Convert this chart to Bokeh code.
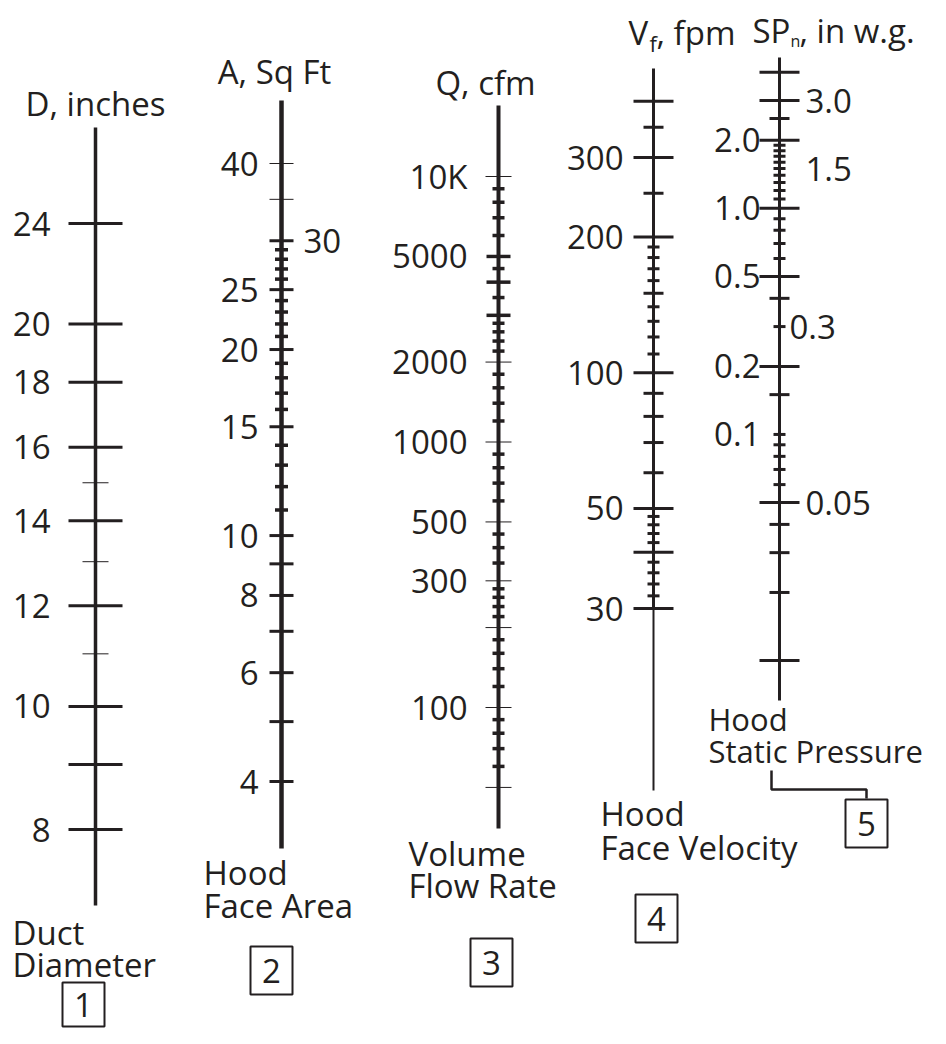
import math
from bokeh.plotting import figure
from bokeh.models import Range1d, LogScale
from bokeh.core.properties import value
from bokeh.embed import file_html
from bokeh.resources import INLINE

# ---------------- data (scale values) ----------------
D_major = [8, 9, 10, 12, 14, 16, 18, 20, 24]
D_minor = [11, 13, 15]
D_labels = [8, 10, 12, 14, 16, 18, 20, 24]

A_thin = [35, 40]
A_major = [4, 5, 6, 7, 8, 9, 10, 15, 20, 25, 30]
A_minor = [11, 12, 13, 14, 16, 17, 18, 19, 21, 22, 23, 24, 26, 27, 28, 29]
A_labels_left = [4, 6, 8, 10, 15, 20, 25, 40]
A_labels_right = [30]

Q_thin = [50, 100, 200, 300, 500, 1000, 2000, 10000]
Q_major = [3000, 4000, 5000]
Q_minor = [60, 70, 80, 90, 120, 140, 160, 180, 220, 240, 260, 280, 350, 400, 450,
           600, 700, 800, 900, 1200, 1400, 1600, 1800, 2200, 2400, 2600, 2800,
           3500, 4500, 6000, 7000, 8000, 9000]
Q_labels = [100, 300, 500, 1000, 2000, 5000, 10000]
Q_label_text = ["100", "300", "500", "1000", "2000", "5000", "10K"]

V_major = [30, 40, 50, 100, 200, 300, 400]
V_mid = [60, 70, 80, 90, 150, 250, 350]
V_minor = [32, 34, 36, 38, 42, 44, 46, 48, 110, 120, 130, 140, 160, 170, 180, 190]
V_labels = [30, 50, 100, 200, 300]

SP_major = [0.01, 0.05, 0.2, 0.5, 1.0, 2.0, 3.0, 4.0]
SP_mid = [0.02, 0.03, 0.04, 0.15, 0.4, 2.5]
SP_minor = [0.06, 0.07, 0.08, 0.09, 0.1, 0.3, 0.6, 0.7, 0.8, 0.9,
            1.1, 1.2, 1.3, 1.4, 1.5, 1.6, 1.7, 1.8, 1.9]
SP_labels_left = [0.1, 0.2, 0.5, 1.0, 2.0]
SP_labels_left_text = ["0.1", "0.2", "0.5", "1.0", "2.0"]
SP_labels_right = [0.05, 1.5, 3.0]
SP_labels_right_text = ["0.05", "1.5", "3.0"]
SP_label_near = [0.3]
SP_label_near_text = ["0.3"]

# ---------------- layout ----------------
W, H = 930, 1028
TOP, BOT = 0, H
INK = "#231f20"
FONT = value("Open Sans")
FS = "33px"

p = figure(width=W, height=H, x_range=Range1d(0, W), y_range=Range1d(BOT, TOP),
           output_backend="svg", toolbar_location=None, min_border=0,
           x_axis_type=None, y_axis_type=None)
p.grid.visible = False
p.outline_line_color = None
p.background_fill_color = "white"
p.border_fill_color = "white"


def log_range(v1, y1, v2, y2):
    """Log range so that value v1 sits at page-y y1 and v2 at y2."""
    k = (y2 - y1) / (math.log10(v1) - math.log10(v2))
    lo = math.log10(v1) - (BOT - y1) / k
    hi = math.log10(v1) + (y1 - TOP) / k
    return Range1d(10 ** lo, 10 ** hi)


p.extra_y_ranges = {
    "D": log_range(24, 223, 8, 829),
    "A": log_range(40, 163, 4, 781),
    "Q": log_range(10000, 176, 100, 707),
    "V": log_range(300, 157, 30, 608),
    "SP": log_range(3.0, 100, 0.05, 502),
}
p.extra_y_scales = {k: LogScale() for k in ["D", "A", "Q", "V", "SP"]}


def ticks(x, vals, half, width, rng):
    p.segment(x0=[x - half] * len(vals), x1=[x + half] * len(vals), y0=vals, y1=vals,
              line_color=INK, line_width=width, y_range_name=rng)


def labels(x, vals, texts, align, rng, size=FS):
    p.text(x=[x] * len(vals), y=vals, text=[str(t) for t in texts], text_align=align,
           text_baseline="middle", text_font=FONT, text_font_size=size,
           text_color=INK, y_range_name=rng)


def free_text(x, y, t, align="left", size=FS, baseline="middle"):
    p.text(x=[x], y=[y], text=[t], text_align=align, text_baseline=baseline,
           text_font=FONT, text_font_size=size, text_color=INK)


def axis_line(x, y0, y1, w):
    p.segment(x0=[x], x1=[x], y0=[y0], y1=[y1], line_color=INK, line_width=w)


def box(cx, cy, t, h=48):
    p.rect(x=[cx], y=[cy], width=42, height=h, fill_color=None, line_color=INK, line_width=2)
    free_text(cx, cy, t, align="center")


# ---- 1: Duct diameter ----
xD = 95
axis_line(xD, 127, 905, 3.5)
ticks(xD, D_major, 27, 3, "D")
ticks(xD, D_minor, 13, 1, "D")
labels(50, D_labels, D_labels, "right", "D")
free_text(xD, 103, "D, inches", align="center")
free_text(12, 932, "Duct")
free_text(12, 964, "Diameter")
box(83, 1004, "1", h=44)

# ---- 2: Hood face area ----
xA = 281
axis_line(xA, 100, 848, 4.5)
ticks(xA, A_major, 12, 3, "A")
ticks(xA, A_minor, 6.5, 3.5, "A")
ticks(xA, A_thin, 12, 1, "A")
labels(258, A_labels_left, A_labels_left, "right", "A")
labels(303, A_labels_right, A_labels_right, "left", "A")
free_text(274, 71, "A, Sq Ft", align="center")
free_text(203, 872, "Hood")
free_text(203, 905, "Face Area")
box(271, 970, "2")

# ---- 3: Volume flow rate ----
xQ = 498
axis_line(xQ, 105, 828, 4)
ticks(xQ, Q_thin, 13, 1, "Q")
ticks(xQ, Q_major, 12, 3.5, "Q")
ticks(xQ, Q_minor, 6, 3.5, "Q")
labels(467, Q_labels, Q_label_text, "right", "Q")
free_text(485, 82, "Q, cfm", align="center")
free_text(408, 853, "Volume")
free_text(408, 885, "Flow Rate")
box(491, 962, "3")

# ---- 4: Hood face velocity ----
xV = 653
axis_line(xV, 68, 608, 3)
axis_line(xV, 608, 790, 2)
ticks(xV, V_major, 20, 3, "V")
ticks(xV, V_mid, 10, 3, "V")
ticks(xV, V_minor, 6, 3, "V")
labels(623, V_labels, V_labels, "right", "V")
free_text(628, 32, "V")
free_text(649, 42, "f", size="22px")
free_text(656, 32, ", fpm")
free_text(600, 813, "Hood")
free_text(600, 847, "Face Velocity")
box(656, 918, "4")

# ---- 5: Hood static pressure ----
xS = 779
axis_line(xS, 57, 700, 3)
ticks(xS, SP_major, 20, 3, "SP")
ticks(xS, SP_mid, 10, 3, "SP")
ticks(xS, SP_minor, 6, 3, "SP")
labels(760, SP_labels_left, SP_labels_left_text, "right", "SP")
labels(805, SP_labels_right, SP_labels_right_text, "left", "SP")
labels(789, SP_label_near, SP_label_near_text, "left", "SP")
free_text(752, 30, "SP")
free_text(790, 40, "n", size="16px")
free_text(799, 30, ", in w.g.")
free_text(708, 718, "Hood", size="31px")
free_text(708, 750, "Static Pressure", size="31px")
p.line(x=[771, 771, 866, 866], y=[770, 789, 789, 798], line_color=INK, line_width=2.5)
box(866, 823, "5")

open("out.html", "w").write(file_html(p, INLINE))
